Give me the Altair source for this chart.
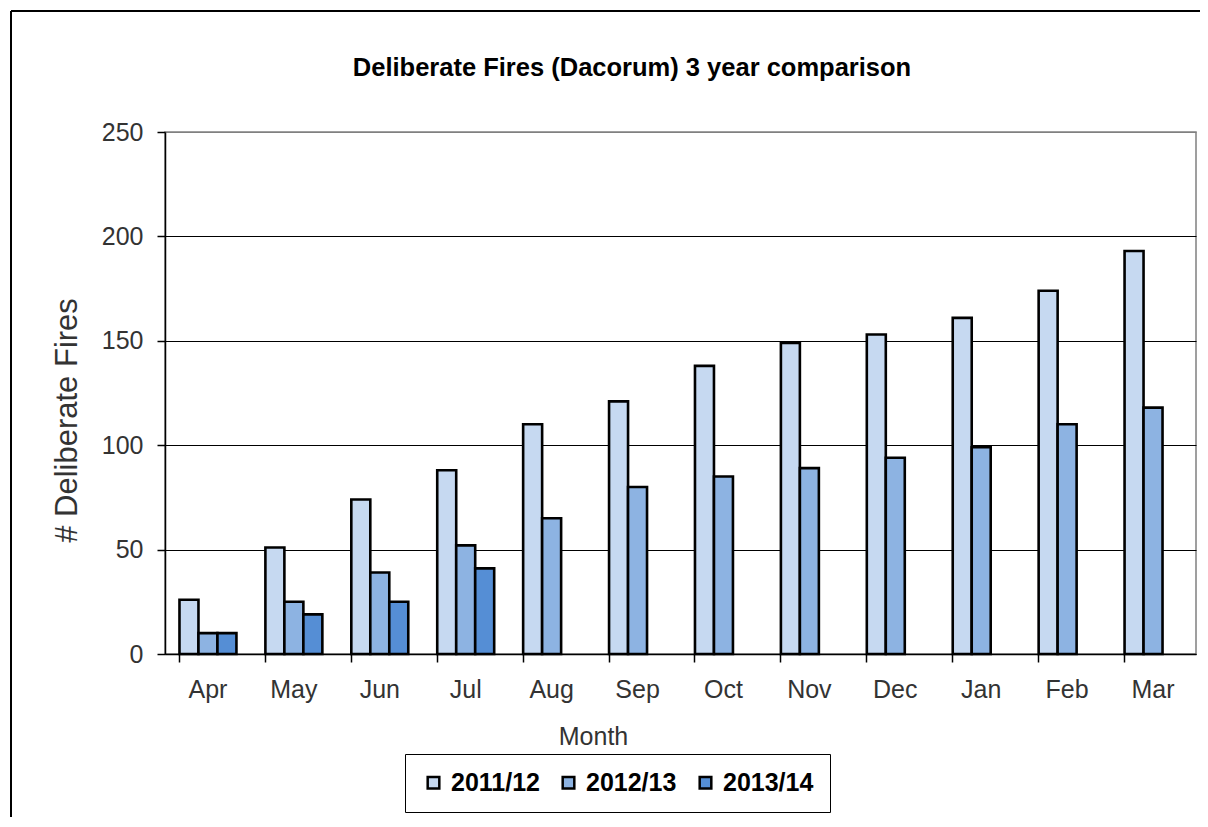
import altair as alt
import pandas as pd

months = ["Apr", "May", "Jun", "Jul", "Aug", "Sep", "Oct", "Nov", "Dec", "Jan", "Feb", "Mar"]
fires_2011_12 = [26, 51, 74, 88, 110, 121, 138, 149, 153, 161, 174, 193]
fires_2012_13 = [10, 25, 39, 52, 65, 80, 85, 89, 94, 99, 110, 118]
fires_2013_14 = [10, 19, 25, 41]
years = ["2011/12", "2012/13", "2013/14"]
colors = ["#C6D9F1", "#8DB3E2", "#558ED5"]
y_ticks = [0, 50, 100, 150, 200, 250]
title_text = "Deliberate Fires (Dacorum) 3 year comparison"

rows = []
for series, yr in zip([fires_2011_12, fires_2012_13, fires_2013_14], years):
    for m, v in zip(months, series):
        rows.append({"Month": m, "Year": yr, "Fires": v})
df = pd.DataFrame(rows)

FONT = "Liberation Sans"
TXT = "#333333"

bars = alt.Chart(df).mark_bar(stroke="black", strokeWidth=2.6).encode(
    x=alt.X(
        "Month:N", sort=months,
        scale=alt.Scale(paddingInner=0.337, paddingOuter=0.1685),
        axis=alt.Axis(
            title="Month", labelAngle=0, bandPosition=0, ticks=True, tickSize=8,
            tickColor="black", tickWidth=1.5, domainColor="black", domainWidth=1.5,
            labelFont=FONT, labelFontSize=25, labelColor=TXT, labelPadding=15,
            titleFont=FONT, titleFontSize=25, titleFontWeight="normal", titleColor=TXT,
            titleX=428, titleY=82, titleBaseline="middle", grid=False,
        ),
    ),
    xOffset=alt.XOffset("Year:N", sort=years, scale=alt.Scale(paddingInner=0, paddingOuter=0)),
    y=alt.Y(
        "Fires:Q",
        scale=alt.Scale(domain=[0, 250], nice=False),
        axis=alt.Axis(
            title="# Deliberate Fires", values=y_ticks, tickSize=8, tickColor="black",
            tickWidth=1.5, domainColor="black", domainWidth=1.5,
            labelFont=FONT, labelFontSize=25, labelColor=TXT, labelPadding=14,
            titleFont=FONT, titleFontSize=31, titleFontWeight="normal", titleColor=TXT,
            titleX=-98, titleY=288, titleBaseline="middle",
            grid=True, gridWidth=1.2,
            gridColor={"condition": {"test": "datum.value >= 250", "value": "#808080"}, "value": "black"},
        ),
    ),
    color=alt.Color(
        "Year:N",
        scale=alt.Scale(domain=years, range=colors),
        legend=alt.Legend(
            title=None, orient="none", legendX=240, legendY=622, direction="horizontal",
            symbolType="square", symbolSize=135, symbolStrokeColor="black", symbolStrokeWidth=2.5,
            labelFont=FONT, labelFontSize=25, labelFontWeight="bold", labelColor="black",
            strokeColor="black", padding=16, columnPadding=16, labelOffset=5, fillColor="white",
        ),
    ),
)

frame_df = pd.DataFrame({"k": [0]})
left_frame = alt.Chart(frame_df).mark_rule(color="black", strokeWidth=2).encode(
    x=alt.value(-154), y=alt.value(-121), y2=alt.value(720)
)
top_frame = alt.Chart(frame_df).mark_rule(color="black", strokeWidth=2).encode(
    x=alt.value(-154), x2=alt.value(1100), y=alt.value(-121)
)
title_df = pd.DataFrame({"t": [title_text]})
title_mark = alt.Chart(title_df).mark_text(
    font=FONT, fontSize=25.5, fontWeight="bold", color="black", align="center", baseline="alphabetic"
).encode(text="t:N", x=alt.value(467), y=alt.value(-56))

chart = alt.layer(bars, left_frame, top_frame, title_mark).properties(
    width=1031,
    height=522,
    autosize=alt.AutoSizeParams(type="none"),
    padding={"left": 157, "top": 124, "right": 4, "bottom": 163},
).configure_view(stroke="#808080", strokeWidth=1.5)

chart.save("out.html", embed_options={"renderer": "svg", "actions": False})
